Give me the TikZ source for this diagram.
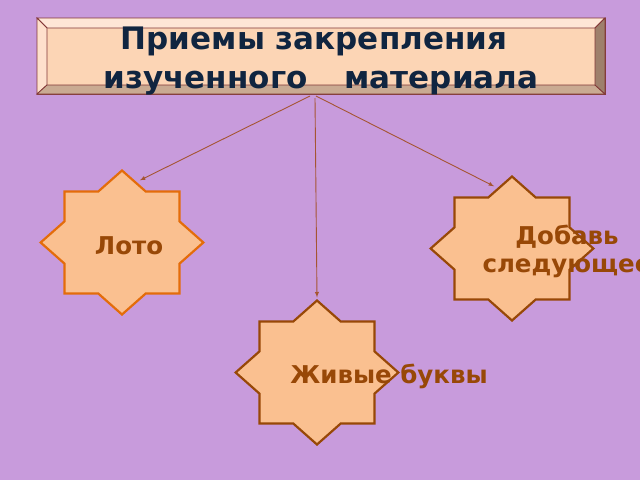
\documentclass[tikz,border=0pt]{standalone}
\usepackage{fontspec}
\setmainfont{DejaVu Sans}
\usetikzlibrary{shapes,arrows,calc}
\definecolor{lilac}{RGB}{200,155,220}
\definecolor{peach}{RGB}{252,213,181}
\definecolor{peachtop}{RGB}{254,230,214}
\definecolor{peachleft}{RGB}{254,224,204}
\definecolor{tanbottom}{RGB}{201,170,146}
\definecolor{tanright}{RGB}{158,128,108}
\definecolor{maroon}{RGB}{130,55,55}
\definecolor{navy}{RGB}{16,37,64}
\definecolor{starfill}{RGB}{250,192,144}
\definecolor{orangeline}{RGB}{228,108,10}
\definecolor{brownline}{RGB}{152,72,7}
\definecolor{arrowbrown}{RGB}{165,85,50}
\tikzset{
  starbox/.style={star, star points=8, star point ratio=1.3066, minimum size=144pt,
    inner sep=0pt, outer sep=0pt, fill=starfill, draw=brownline, line width=2.2pt,
    xscale=1.13, transform shape},
  starlabel/.style={font=\bfseries\fontsize{24.5}{28}\selectfont, text=brownline,
    align=center, anchor=base, inner sep=0pt},
  bevel/.style={draw=maroon, line width=0.8pt, line join=miter},
  link/.style={->, >=latex, draw=arrowbrown, line width=0.9pt},
}

\begin{document}
\begin{tikzpicture}[x=1pt,y=-1pt]
    \useasboundingbox (0,0) rectangle (640,480);
    \fill[lilac] (0,0) rectangle (640,480);
    \clip (0,0) rectangle (640,480);

    % title frame
    \path (321,56) node[fill=peach, bevel, minimum width=568pt, minimum height=76pt, inner sep=0pt, outer sep=0pt] (title) {};
    \filldraw[bevel, fill=peachtop] (title.north west) -- (title.north east) -- ++(-10,10) -- ($(title.north west)+(10,10)$) -- cycle;
    \filldraw[bevel, fill=peachleft] (title.north west) -- ++(10,10) -- ($(title.south west)+(10,-9)$) -- (title.south west) -- cycle;
    \filldraw[bevel, fill=tanbottom] (title.south west) -- ++(10,-9) -- ($(title.south east)+(-10,-9)$) -- (title.south east) -- cycle;
    \filldraw[bevel, fill=tanright] (title.north east) -- ++(-10,10) -- ($(title.south east)+(-10,-9)$) -- (title.south east) -- cycle;
    \path (321,88) node[font=\bfseries\fontsize{31}{39}\selectfont, text=navy, align=center, anchor=base, inner sep=0pt] (heading) {Приемы закрепления\hspace*{14pt}\\изученного\hspace{37pt}материала};

    % stars
    \path (122,242.5) node[starbox, draw=orangeline] (loto) {};
    \path (512,248.5) node[starbox] (dobav) {};
    \path (317,372.5) node[starbox] (zhiv) {};

    \path (129,254) node[starlabel] (lotolbl) {Лото};
    \path (567,272) node[starlabel] (dobavlbl) {Добавь\\следующее};
    \path (389,383) node[starlabel] (zhivlbl) {Живые буквы};

    \draw[link] ([xshift=-11pt,yshift=-2pt]title.south) -- ($(loto.outer point 1)!0.75!(loto.inner point 8)+(0,-6)$);
    \draw[link] ([xshift=-6pt,yshift=-4pt]title.south) -- ([yshift=3pt]zhiv.north);
    \draw[link] ([xshift=-5pt,yshift=-2pt]title.south) -- ($(dobav.outer point 1)!0.75!(dobav.inner point 1)+(0,-6)$);
\end{tikzpicture}
\end{document}
